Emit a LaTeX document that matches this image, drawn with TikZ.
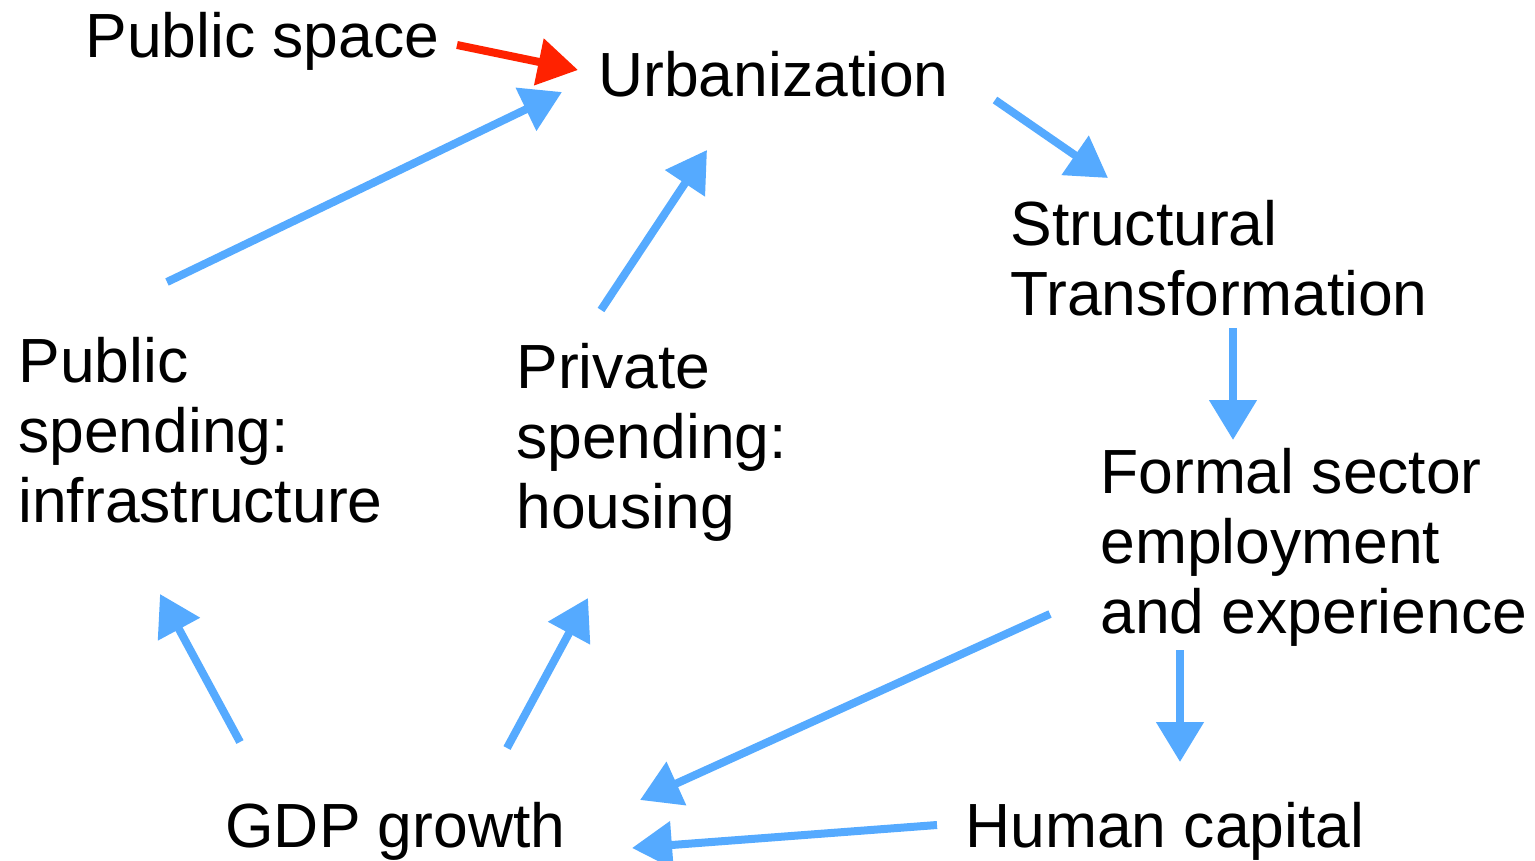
\documentclass[tikz,border=0pt]{standalone}
\usepackage{fontspec}
\setmainfont{Liberation Sans}
\usetikzlibrary{arrows.meta}
\definecolor{flowblue}{RGB}{85,170,255}
\definecolor{flowred}{RGB}{255,34,0}
\begin{document}
\begin{tikzpicture}[x=0.5pt,y=-0.5pt,
  lbl/.style={anchor=base west,inner sep=0pt,align=left,
    font=\fontsize{31.2pt}{35pt}\selectfont},
  flow/.style={line width=4pt,draw=flowblue,
    -{Triangle[length=20pt,width=23pt]}},
  hotflow/.style={flow,draw=flowred}]
\useasboundingbox (0,0) rectangle (1535,861);

% concepts (base anchor sits on the last line's baseline)
\node[lbl] (pspace) at (85,58) {Public space};
\node[lbl] (urb) at (598,97) {Urbanization};
\node[lbl] (struct) at (1010,315) {Structural\\Transformation};
\node[lbl] (pubsp) at (18,522) {Public\\spending:\\infrastructure};
\node[lbl] (privsp) at (516,528) {Private\\spending:\\housing};
\node[lbl] (formal) at (1100,633) {Formal sector\\employment\\and experience};
\node[lbl] (gdp) at (225,847) {GDP growth};
\node[lbl] (hum) at (965,847) {Human capital};

% arrow ends beside each concept
\coordinate (pspace-out) at (457,45);
\coordinate (urb-in1) at (578,70);
\coordinate (urb-in2) at (562,92);
\coordinate (urb-in3) at (707,150);
\coordinate (urb-out) at (995,100);
\coordinate (struct-in) at (1108,178);
\coordinate (struct-out) at (1233,328);
\coordinate (formal-in) at (1233,440);
\coordinate (formal-out1) at (1180,650);
\coordinate (formal-out2) at (1050,614);
\coordinate (hum-in) at (1180,762);
\coordinate (hum-out) at (937,825);
\coordinate (gdp-in1) at (640,800);
\coordinate (gdp-in2) at (632,848);
\coordinate (gdp-out1) at (240,742);
\coordinate (gdp-out2) at (507,748);
\coordinate (pubsp-in) at (160,594);
\coordinate (pubsp-out) at (167,282);
\coordinate (privsp-in) at (588,598);
\coordinate (privsp-out) at (601,310);

% links
\draw[hotflow] (pspace-out) -- (urb-in1);
\draw[flow] (pubsp-out) -- (urb-in2);
\draw[flow] (privsp-out) -- (urb-in3);
\draw[flow] (urb-out) -- (struct-in);
\draw[flow] (struct-out) -- (formal-in);
\draw[flow] (formal-out1) -- (hum-in);
\draw[flow] (formal-out2) -- (gdp-in1);
\draw[flow] (hum-out) -- (gdp-in2);
\draw[flow] (gdp-out1) -- (pubsp-in);
\draw[flow] (gdp-out2) -- (privsp-in);
\end{tikzpicture}
\end{document}
